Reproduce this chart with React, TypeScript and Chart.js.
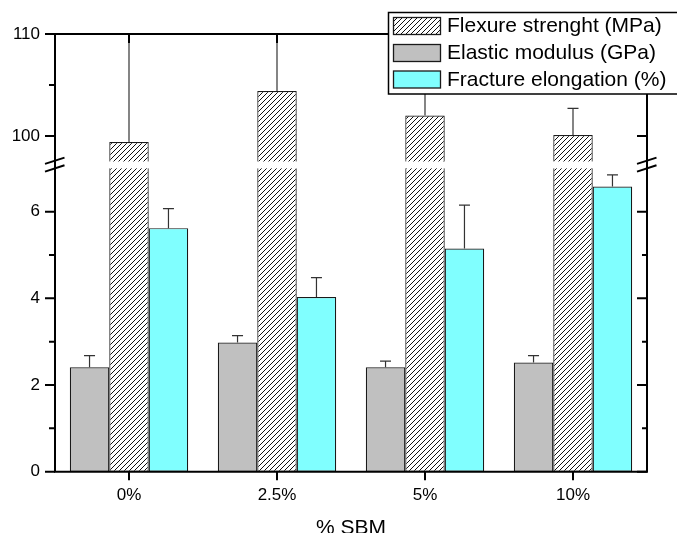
import React, { useEffect, useRef } from 'react';
import { Chart, registerables, LinearScale } from 'chart.js';

Chart.register(...registerables);

// ---- data ----
const categories = ['0%', '2.5%', '5%', '10%'];
const flexureStrength = [99.4, 104.4, 102.0, 100.1];
const flexureError = [12, 6.5, 3.5, 2.6];
const elasticModulus = [2.41, 2.98, 2.41, 2.52];
const elasticError = [0.27, 0.16, 0.14, 0.16];
const fractureElongation = [5.62, 4.03, 5.15, 6.58];
const fractureError = [0.45, 0.45, 1.0, 0.27];

const yTickValues = [0, 1, 2, 3, 4, 5, 6, 100, 105, 110];
const yTickLabels = [0, 2, 4, 6, 100, 110];
const seriesLabels = ['Flexure strenght (MPa)', 'Elastic modulus (GPa)', 'Fracture elongation (%)'];
const xTitle = '% SBM';

// broken axis segments
const LOWER_MAX = 7;
const UPPER_MIN = 97.5;
const Y_MAX = 110;
const LOWER_SHARE = 0.693;
const GAP_SHARE = 0.0158;

const FONT = '"Liberation Sans", Arial, Helvetica, sans-serif';

class BrokenLinearScale extends LinearScale {
  static id = 'brokenLinear';
  static defaults = LinearScale.defaults;

  buildTicks() {
    return yTickValues.map((v) => ({ value: v }));
  }

  breaks() {
    const h = this.bottom - this.top;
    const low = this.bottom - LOWER_SHARE * h;
    const high = low - GAP_SHARE * h;
    return { low, high };
  }

  getPixelForValue(value: number) {
    if (value === null || value === undefined || isNaN(value)) return NaN;
    const { low, high } = this.breaks();
    if (value <= LOWER_MAX) return this.bottom - (value / LOWER_MAX) * (this.bottom - low);
    if (value >= UPPER_MIN) return high - ((value - UPPER_MIN) / (Y_MAX - UPPER_MIN)) * (high - this.top);
    return low - ((value - LOWER_MAX) / (UPPER_MIN - LOWER_MAX)) * (low - high);
  }

  getValueForPixel(pixel: number) {
    const { low, high } = this.breaks();
    if (pixel >= low) return ((this.bottom - pixel) / (this.bottom - low)) * LOWER_MAX;
    if (pixel <= high) return UPPER_MIN + ((high - pixel) / (high - this.top)) * (Y_MAX - UPPER_MIN);
    return LOWER_MAX + ((low - pixel) / (low - high)) * (UPPER_MIN - LOWER_MAX);
  }
}
Chart.register(BrokenLinearScale as any);

function makeHatch(): CanvasPattern | string {
  const s = 5;
  const c = document.createElement('canvas');
  c.width = s;
  c.height = s;
  const g = c.getContext('2d');
  if (!g) return '#fff';
  g.fillStyle = '#fff';
  g.fillRect(0, 0, s, s);
  g.strokeStyle = '#111';
  g.lineWidth = 1;
  g.beginPath();
  g.moveTo(-1, s + 1);
  g.lineTo(s + 1, -1);
  g.moveTo(-1, 1);
  g.lineTo(1, -1);
  g.moveTo(s - 1, s + 1);
  g.lineTo(s + 1, s - 1);
  g.stroke();
  const p = g.createPattern(c, 'repeat');
  return p || '#fff';
}

const errorSets = [elasticError, flexureError, fractureError];

function makeDecorPlugin(hatch: any) {
  return {
    id: 'decor',
    afterDatasetsDraw(chart: any) {
      const { ctx, chartArea: a, scales } = chart;
      const y = scales.y;
      const gTop = y.getPixelForValue(UPPER_MIN);
      const gBot = y.getPixelForValue(LOWER_MAX);
      ctx.save();
      ctx.fillStyle = '#fff';
      ctx.fillRect(a.left + 1, gTop, a.right - a.left - 2, gBot - gTop);

      ctx.beginPath();
      ctx.rect(a.left, a.top + 1, a.right - a.left, a.bottom - a.top);
      ctx.clip();
      ctx.strokeStyle = '#333';
      ctx.lineWidth = 1.2;
      chart.data.datasets.forEach((ds: any, di: number) => {
        const meta = chart.getDatasetMeta(di);
        const errs = errorSets[di];
        meta.data.forEach((bar: any, i: number) => {
          const v = ds.data[i] + errs[i];
          const yTop = y.getPixelForValue(v);
          ctx.beginPath();
          ctx.moveTo(bar.x, bar.y);
          ctx.lineTo(bar.x, yTop);
          ctx.moveTo(bar.x - 5.5, yTop);
          ctx.lineTo(bar.x + 5.5, yTop);
          ctx.stroke();
        });
      });
      ctx.restore();
    },
    afterDraw(chart: any) {
      const { ctx, chartArea: a, scales } = chart;
      const y = scales.y;
      const x = scales.x;
      ctx.save();
      ctx.strokeStyle = '#000';
      ctx.lineWidth = 2;
      ctx.lineCap = 'square';
      // frame
      ctx.beginPath();
      ctx.moveTo(a.left, a.top);
      ctx.lineTo(a.left, a.bottom);
      ctx.lineTo(a.right, a.bottom);
      ctx.lineTo(a.right, a.top);
      ctx.lineTo(a.left, a.top);
      ctx.stroke();
      ctx.lineCap = 'butt';
      // y ticks
      yTickValues.forEach((v) => {
        const p = y.getPixelForValue(v);
        const major = yTickLabels.includes(v);
        ctx.beginPath();
        ctx.moveTo(a.left, p);
        ctx.lineTo(a.left - (major ? 10 : 6), p);
        ctx.moveTo(a.right, p);
        ctx.lineTo(a.right - (major ? 10 : 5), p);
        ctx.stroke();
      });
      // x ticks
      categories.forEach((_, i) => {
        const p = x.getPixelForTick(i);
        ctx.beginPath();
        ctx.moveTo(p, a.bottom);
        ctx.lineTo(p, a.bottom + 8.5);
        ctx.moveTo(p, a.top);
        ctx.lineTo(p, a.top + 9);
        ctx.stroke();
      });
      // break marks
      const c = (y.getPixelForValue(UPPER_MIN) + y.getPixelForValue(LOWER_MAX)) / 2;
      [a.left, a.right].forEach((ax) => {
        ctx.beginPath();
        ctx.moveTo(ax - 10, c - 1);
        ctx.lineTo(ax + 9.5, c - 7.3);
        ctx.moveTo(ax - 10, c + 6.7);
        ctx.lineTo(ax + 9.5, c + 0.3);
        ctx.stroke();
      });

      // legend
      const lx = 388.5;
      const ly = 12.5;
      ctx.fillStyle = '#fff';
      ctx.fillRect(lx, ly, 300, 81.5);
      ctx.lineWidth = 1.5;
      ctx.strokeStyle = '#000';
      ctx.strokeRect(lx, ly, 300, 81.5);
      const fills = [hatch, '#C0C0C0', '#80FFFF'];
      const rowTops = [17.5, 44.5, 71];
      ctx.font = `21px ${FONT}`;
      ctx.textBaseline = 'middle';
      ctx.textAlign = 'left';
      seriesLabels.forEach((lab, i) => {
        ctx.fillStyle = fills[i];
        ctx.fillRect(393.5, rowTops[i], 47, 17);
        ctx.lineWidth = 1.3;
        ctx.strokeStyle = '#1a1a1a';
        ctx.strokeRect(393.5, rowTops[i], 47, 17);
        ctx.fillStyle = '#000';
        ctx.fillText(lab, 447, rowTops[i] + 9);
      });

      // x-axis title
      ctx.font = `21px ${FONT}`;
      ctx.textAlign = 'center';
      ctx.textBaseline = 'alphabetic';
      ctx.fillStyle = '#000';
      ctx.fillText(xTitle, (a.left + a.right) / 2, 533.5);
      ctx.restore();
    },
  };
}

export default function App() {
  const ref = useRef<HTMLCanvasElement | null>(null);

  useEffect(() => {
    const canvas = ref.current;
    if (!canvas) return;
    const hatch = makeHatch();
    const barCommon = {
      borderColor: '#1a1a1a',
      borderWidth: 1.2,
      borderSkipped: false,
    };
    const chart = new Chart(canvas, {
      type: 'bar',
      data: {
        labels: categories,
        datasets: [
          { label: seriesLabels[1], data: elasticModulus, backgroundColor: '#C0C0C0', ...barCommon },
          { label: seriesLabels[0], data: flexureStrength, backgroundColor: hatch as any, ...barCommon },
          { label: seriesLabels[2], data: fractureElongation, backgroundColor: '#80FFFF', ...barCommon },
        ],
      },
      options: {
        animation: false,
        responsive: false,
        devicePixelRatio: 1,
        layout: { padding: { top: 34, right: 30, left: 0, bottom: 0 } },
        datasets: { bar: { categoryPercentage: 0.8, barPercentage: 1.0 } },
        plugins: { legend: { display: false }, tooltip: { enabled: false } },
        scales: {
          x: {
            type: 'category',
            grid: { display: false, drawTicks: true, tickLength: 8 },
            border: { display: false },
            ticks: { color: '#000', font: { family: FONT, size: 17 }, padding: 5, maxRotation: 0 },
            afterFit: (s: any) => {
              s.height = 61.3;
            },
          },
          y: {
            type: 'brokenLinear' as any,
            min: 0,
            max: Y_MAX,
            grid: { display: false, drawTicks: true, tickLength: 10 },
            border: { display: false },
            ticks: {
              autoSkip: false,
              color: '#000',
              font: { family: FONT, size: 17 },
              padding: 5,
              callback: (v: any) => (yTickLabels.includes(Number(v)) ? String(v) : ''),
            },
            afterFit: (s: any) => {
              s.width = 55;
            },
          },
        },
      } as any,
      plugins: [makeDecorPlugin(hatch)],
    });
    return () => chart.destroy();
  }, []);

  return (
    <div style={{ position: 'fixed', left: 0, top: 0, width: 677, height: 533, background: '#fff' }}>
      <canvas ref={ref} width={677} height={533} style={{ display: 'block', width: 677, height: 533 }} />
    </div>
  );
}
